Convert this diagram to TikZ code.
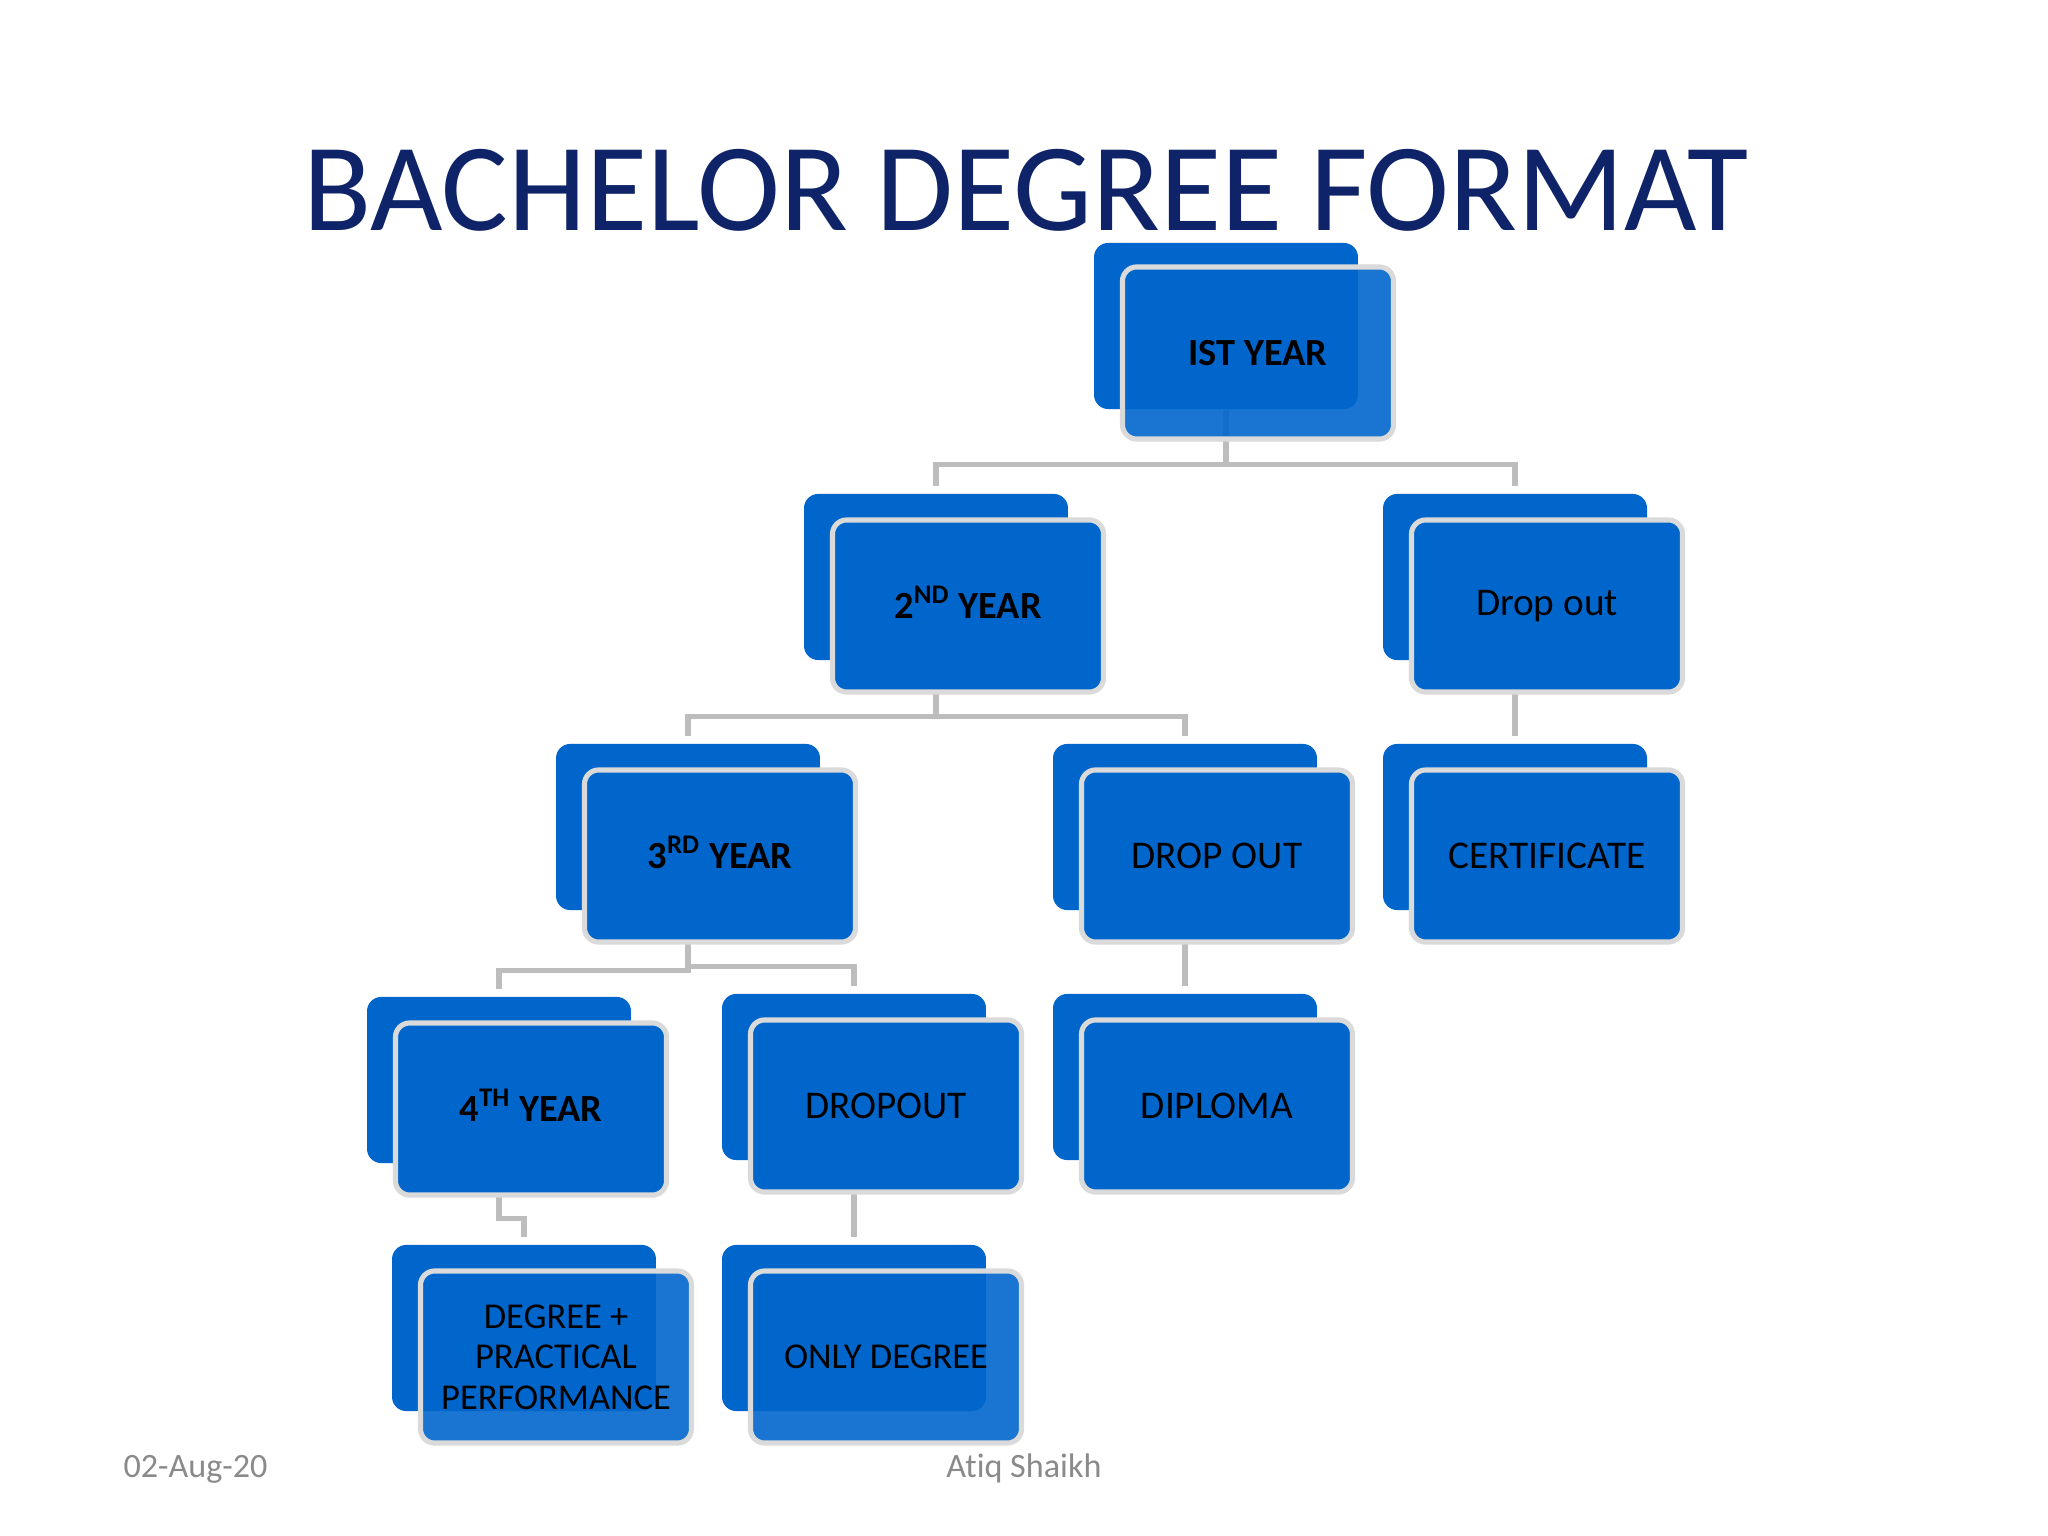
\documentclass[tikz,border=0pt]{standalone}
\usepackage{fontspec}
\setmainfont{Carlito}[Ligatures=NoCommon]
\usepackage{xcolor}
\usepackage{tikz}
\usetikzlibrary{positioning,calc}

\definecolor{boxblue}{HTML}{0066CC}
\definecolor{titlenavy}{HTML}{0F2468}
\definecolor{rimgray}{HTML}{DADADA}
\definecolor{linkgray}{HTML}{BDBDBD}
\definecolor{footgray}{HTML}{8A8A8A}

\newcommand{\yrsup}[1]{\smash{\textsuperscript{#1}}}

\begin{document}
\begin{tikzpicture}[
    x=0.3515625pt, y=-0.3515625pt,
    back/.style={rectangle, rounded corners=5pt, fill=boxblue, minimum width=92.8pt, minimum height=58.4pt, inner sep=0pt},
    front/.style={rectangle, rounded corners=5pt, fill=boxblue, draw=rimgray, line width=1.8pt, minimum width=95.3pt, minimum height=60.5pt, inner sep=2pt, align=center, font=\fontsize{13.8}{15}\selectfont},
    ghost/.style={fill opacity=0.9, text opacity=1},
    yearlbl/.style={font=\fontsize{13.5}{15}\selectfont\bfseries},
    small/.style={font=\fontsize{12.8}{14.2}\selectfont},
    link/.style={draw=linkgray, line width=1.8pt, shorten >=2.5pt},
    foot/.style={font=\fontsize{12}{14}\selectfont, text=footgray, inner sep=0pt}
]

% Page
\fill[white] (0,0) rectangle (2048,1536);
\useasboundingbox (0,0) rectangle (2048,1536);

% Title
\node[anchor=base, text=titlenavy, inner sep=0pt, font=\fontsize{44}{52}\selectfont] (title) at (1026,231) {BACHELOR DEGREE FORMAT};

% Back boxes
\node[back] (b1) at (1226,326) {};
\node[back] (b2) at (936,577) {};
\node[back] (b3) at (1515,577) {};
\node[back] (b4) at (688,827) {};
\node[back] (b5) at (1185,827) {};
\node[back] (b6) at (1515,827) {};
\node[back] (b7) at (499,1080) {};
\node[back] (b8) at (854,1077) {};
\node[back] (b9) at (1185,1077) {};
\node[back] (b10) at (524,1328) {};
\node[back] (b11) at (854,1328) {};

% Connectors
\draw[link] (b1.south) -- ++(0,55) -| (b2.north);
\draw[link] (b1.south) -- ++(0,55) -| (b3.north);
\draw[link] (b2.south) -- ++(0,56) -| (b4.north);
\draw[link] (b2.south) -- ++(0,56) -| (b5.north);
\draw[link] (b3.south) -- (b6.north);
\draw[link] (b4.south) -- ++(0,60) -| (b7.north);
\draw[link] (b4.south) -- ++(0,56) -| (b8.north);
\draw[link] (b5.south) -- (b9.north);
\draw[link] (b7.south) -- ++(0,55) -| (b10.north);
\draw[link] (b8.south) -- (b11.north);

% Front boxes
\node[front, ghost, yearlbl] (f1) at ($(b1)+(32,27)$) {IST YEAR};
\node[front, yearlbl] (f2) at ($(b2)+(32,29)$) {2\yrsup{ND} YEAR};
\node[front] (f3) at ($(b3)+(32,29)$) {Drop out};
\node[front, yearlbl] (f4) at ($(b4)+(32,29)$) {3\yrsup{RD} YEAR};
\node[front] (f5) at ($(b5)+(32,29)$) {DROP OUT};
\node[front] (f6) at ($(b6)+(32,29)$) {CERTIFICATE};
\node[front, yearlbl] (f7) at ($(b7)+(32,29)$) {4\yrsup{TH} YEAR};
\node[front] (f8) at ($(b8)+(32,29)$) {DROPOUT};
\node[front] (f9) at ($(b9)+(32,29)$) {DIPLOMA};
\node[front, ghost, small] (f10) at ($(b10)+(32,29)$) {DEGREE +\\PRACTICAL\\PERFORMANCE};
\node[front, ghost, small] (f11) at ($(b11)+(32,29)$) {ONLY DEGREE};

% Footer
\node[foot, anchor=base west] (date) at (123,1477) {02-Aug-20};
\node[foot, anchor=base] (author) at (1024,1477) {Atiq Shaikh};

\end{tikzpicture}
\end{document}
